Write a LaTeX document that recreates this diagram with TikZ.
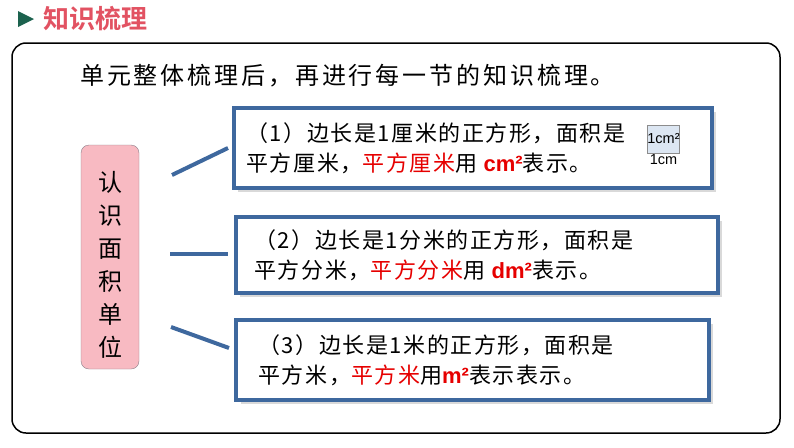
\documentclass[tikz,border=0pt]{standalone}
\usepackage{fontspec}
\usetikzlibrary{positioning}
\newfontfamily\cjk{Noto Sans CJK SC}
\newfontfamily\cjkbold{Noto Sans CJK SC Bold}
\newfontfamily\arialf{Liberation Sans}
\definecolor{boxblue}{RGB}{62,104,158}
\definecolor{unitpink}{RGB}{248,186,194}
\definecolor{unitedge}{RGB}{140,128,138}
\definecolor{titlered}{RGB}{226,82,98}
\definecolor{arrowgreen}{RGB}{28,98,78}
\definecolor{sqfill}{RGB}{220,230,242}
\definecolor{hilite}{RGB}{230,0,0}

\tikzset{
  infobox/.style={draw=boxblue, line width=3.5pt, fill=white, rectangle},
  link/.style={draw=boxblue, line width=4pt},
  boxtext/.style={anchor=west, align=left, inner sep=0pt,
                  font=\cjk\fontsize{22}{30}\selectfont\addfontfeature{LetterSpace=7}}
}
\newcommand{\red}[1]{{\color{hilite}#1}}
\newcommand{\unitsym}[1]{{\arialf\bfseries\color{hilite}#1}}

\begin{document}
\begin{tikzpicture}[x=1pt,y=-1pt]
  \useasboundingbox (0,0) rectangle (794,447);

  % Heading
  \fill[arrowgreen] (18,11) -- (34,19) -- (18,27) -- cycle;
  \node[text=titlered, font=\cjkbold\fontsize{26}{26}\selectfont] (title) at (95,19) {知识梳理};

  % Frame
  \draw[line width=1.5pt, rounded corners=14pt] (12,43) rectangle (780,433);

  \node[anchor=west, inner sep=0pt, font=\cjk\fontsize{24}{24}\selectfont\addfontfeature{LetterSpace=12}] (intro) at (80,76)
    {单元整体梳理后，再进行每一节的知识梳理。};

  % Left topic
  \node[draw=unitedge, fill=unitpink, rounded corners=8pt, minimum width=58, minimum height=224,
        align=center, font=\cjk\fontsize{24}{33}\selectfont] (unit) at (110,257) {};
  \node[align=center, font=\cjk\fontsize{24}{33}\selectfont] (unittext) at ([yshift=-8pt]unit.center)
    {认\\识\\面\\积\\单\\位};

  % Three boxes
  \fill[black!15] (238,112) rectangle (716,192);
  \node[infobox, minimum width=478, minimum height=80] (sqcm) at (473,148) {};
  \fill[black!15] (240,221) rectangle (722,297);
  \node[infobox, minimum width=482, minimum height=76] (sqdm) at (477,255) {};
  \fill[black!15] (241,324) rectangle (713,404);
  \node[infobox, minimum width=473, minimum height=80] (sqm) at (472.5,360) {};

  \node[boxtext] (t1) at ([xshift=14pt]sqcm.west)
    {（1）边长是1厘米的正方形，面积是\\平方厘米，\red{平方厘米}用 \unitsym{cm²}表示。};
  \node[boxtext] (t2) at ([xshift=20pt]sqdm.west)
    {（2）边长是1分米的正方形，面积是\\平方分米，\red{平方分米}用 \unitsym{dm²}表示。};
  \node[boxtext] (t3) at ([xshift=24pt]sqm.west)
    {（3）边长是1米的正方形，面积是\\平方米，\red{平方米}用\unitsym{m²}表示表示。};

  % Small square
  \node[draw=black!45, fill=sqfill, minimum width=31, minimum height=28, inner sep=0pt,
        font=\arialf\fontsize{14.5}{14.5}\selectfont] (sq) at (663.5,139) {1cm²};
  \node[below=0pt of sq, inner sep=1pt, font=\arialf\fontsize{14.5}{14.5}\selectfont] (sqlabel) {1cm};

  % Links
  \coordinate (l1a) at (172,175);
  \coordinate (l1b) at (228,148);
  \coordinate (l2a) at (170,254);
  \coordinate (l2b) at (228,254);
  \coordinate (l3a) at (171,327);
  \coordinate (l3b) at (229,348);
  \draw[link] (l1a) -- (l1b);
  \draw[link] (l2a) -- (l2b);
  \draw[link] (l3a) -- (l3b);
\end{tikzpicture}
\end{document}
